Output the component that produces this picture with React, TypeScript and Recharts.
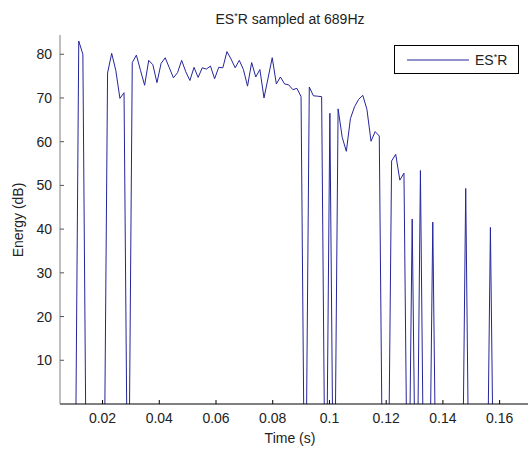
import { LineChart, Line, XAxis, YAxis, Customized } from 'recharts';

// ES*R energy, one value per sample (689 Hz), starting at sample 4.
// -40 marks samples that fall below the axis (drawn as drops to the floor).
const SAMPLE_RATE = 689;
const FIRST_SAMPLE = 4;
const energyDb = [
  -40, -40, -40, -40,
  83.0, 80.0,
  -40, -40, -40, -40, -40,
  75.7, 80.2, 76.3, 69.9, 71.2,
  -40,
  78.1, 79.8, 76.3, 72.9, 78.6, 77.6, 73.5, 77.9, 79.2, 76.9,
  74.6, 75.8, 78.6, 76.0, 74.0, 77.0, 74.7, 76.9, 76.6, 77.3,
  74.4, 77.0, 76.9, 80.6, 78.9, 76.9, 78.6, 76.5, 72.7, 78.1,
  74.8, 76.5, 70.0, 74.6, 79.2, 73.2, 74.8, 73.2, 73.0, 71.9,
  72.2, 70.3,
  -40,
  72.5, 70.5, 70.4, 70.3,
  -40,
  66.5,
  -40,
  67.5, 61.0, 57.8, 65.3, 68.0, 69.7, 70.6, 67.4, 60.1, 62.3, 61.3,
  -40, -40,
  55.6, 57.1, 51.2, 52.8,
  -40,
  42.3,
  -40,
  53.4,
  -40, -40,
  41.6,
  -40, -40, -40, -40, -40, -40, -40,
  49.3,
  -40, -40, -40, -40, -40,
  40.4,
  -40, -40, -40, -40, -40, -40, -40, -40,
];

const xTicks = [0.02, 0.04, 0.06, 0.08, 0.1, 0.12, 0.14, 0.16];
const yTicks = [10, 20, 30, 40, 50, 60, 70, 80];

const data = energyDb.map((energy, i) => ({
  time: (FIRST_SAMPLE + i) / SAMPLE_RATE,
  energy,
}));

const FONT = '"Liberation Sans", Arial, sans-serif';
const LINE_COLOR = '#25259a';

const Decorations = () => (
  <g fontFamily={FONT} fill="#222">
    <text x={290} y={24} textAnchor="middle" fontSize={14}>
      ES<tspan dy={-5} fontSize={9}>*</tspan><tspan dy={5}>R sampled at 689Hz</tspan>
    </text>
    <text x={290} y={443} textAnchor="middle" fontSize={14}>Time (s)</text>
    <text
      x={0}
      y={0}
      transform="translate(23, 220) rotate(-90)"
      textAnchor="middle"
      fontSize={14}
    >
      Energy (dB)
    </text>
    <rect x={394.5} y={45.5} width={124} height={28} fill="#fff" stroke="#000" strokeWidth={1} />
    <line x1={407} x2={469} y1={60} y2={60} stroke={LINE_COLOR} strokeWidth={1} />
    <text x={475} y={65} fontSize={14}>
      ES<tspan dy={-5} fontSize={9}>*</tspan><tspan dy={5}>R</tspan>
    </text>
  </g>
);

export default function App() {
  return (
    <div style={{ position: 'absolute', left: 0, top: 0, background: '#fff' }}>
      <LineChart
        width={529}
        height={450}
        data={data}
        margin={{ top: 35, right: 1, bottom: 16, left: 0 }}
      >
        <XAxis
          dataKey="time"
          type="number"
          domain={[0.005, 0.17]}
          ticks={xTicks}
          tickFormatter={(v: number) => String(v)}
          allowDataOverflow
          height={30}
          tickSize={-4}
          tickMargin={13}
          axisLine={{ stroke: '#000' }}
          tickLine={{ stroke: '#000' }}
          tick={{ fill: '#222', fontSize: 14, fontFamily: FONT }}
        />
        <YAxis
          type="number"
          domain={[0, 84.4]}
          ticks={yTicks}
          allowDataOverflow
          width={60}
          tickSize={-4}
          tickMargin={12}
          axisLine={{ stroke: '#808080' }}
          tickLine={{ stroke: '#555' }}
          tick={{ fill: '#222', fontSize: 14, fontFamily: FONT }}
        />
        <Line
          type="linear"
          dataKey="energy"
          stroke={LINE_COLOR}
          strokeWidth={1}
          dot={false}
          isAnimationActive={false}
        />
        <Customized component={Decorations} />
      </LineChart>
    </div>
  );
}
